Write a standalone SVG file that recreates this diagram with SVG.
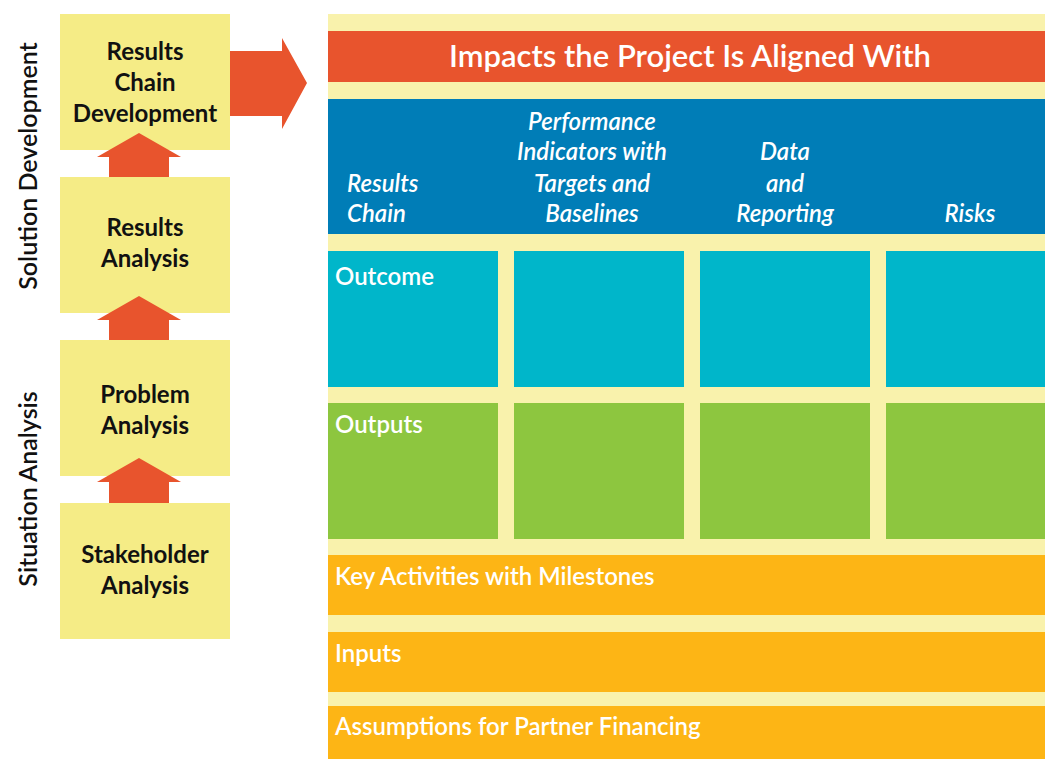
<svg xmlns="http://www.w3.org/2000/svg" width="1045" height="759" viewBox="0 0 1045 759">
<style>
.box{fill:#F5EC86}
.arr{fill:#E8542D}
.lbl{font-family:Lato,"Liberation Sans",sans-serif;font-weight:bold;font-size:24px;fill:#111;text-anchor:middle}
.side{font-family:Lato,"Liberation Sans",sans-serif;font-weight:600;font-size:25px;fill:#111;text-anchor:middle}
.hdr{font-family:Lato,"Liberation Sans",sans-serif;font-style:italic;font-weight:600;font-size:24px;fill:#fff}
.row{font-family:Lato,"Liberation Sans",sans-serif;font-weight:600;font-size:24px;fill:#fff}
.title{font-family:Lato,"Liberation Sans",sans-serif;font-weight:600;font-size:31px;fill:#fff;text-anchor:middle}
</style>
<rect width="1045" height="759" fill="#fff"/>
<g id="side-labels">
<text class="side" transform="translate(37,166) rotate(-90)">Solution Development</text>
<text class="side" transform="translate(37,489) rotate(-90)">Situation Analysis</text>
</g>
<g id="node-results-chain-development">
<rect class="box" x="60" y="14" width="170" height="136"/>
<text class="lbl" x="145" y="60">Results</text>
<text class="lbl" x="145" y="91">Chain</text>
<text class="lbl" x="145" y="122">Development</text>
</g>
<g id="node-results-analysis">
<rect class="box" x="60" y="177" width="170" height="136"/>
<text class="lbl" x="145" y="236">Results</text>
<text class="lbl" x="145" y="267">Analysis</text>
</g>
<g id="node-problem-analysis">
<rect class="box" x="60" y="340" width="170" height="136"/>
<text class="lbl" x="145" y="403">Problem</text>
<text class="lbl" x="145" y="434">Analysis</text>
</g>
<g id="node-stakeholder-analysis">
<rect class="box" x="60" y="503" width="170" height="136"/>
<text class="lbl" x="145" y="563">Stakeholder</text>
<text class="lbl" x="145" y="594">Analysis</text>
</g>
<g id="connectors">
<polygon class="arr" points="139,133 181,157 169,157 169,177 109,177 109,157 97,157"/>
<polygon class="arr" points="139,296 181,320 169,320 169,340 109,340 109,320 97,320"/>
<polygon class="arr" points="139,458 181,482 169,482 169,503 109,503 109,482 97,482"/>
<polygon class="arr" points="230,51 282,51 282,38 307,83 282,129 282,116 230,116"/>
</g>
<g id="node-framework">
<rect x="328" y="14" width="717" height="745" fill="#F9F2AC"/>
<rect x="328" y="31" width="717" height="51" fill="#E8542D"/>
<text class="title" x="690" y="67">Impacts the Project Is Aligned With</text>
<rect x="328" y="99" width="717" height="135" fill="#007DB7"/>
<text class="hdr" x="347" y="192">Results</text>
<text class="hdr" x="347" y="222">Chain</text>
<g text-anchor="middle">
<text class="hdr" x="592" y="130">Performance</text>
<text class="hdr" x="592" y="160">Indicators with</text>
<text class="hdr" x="592" y="192">Targets and</text>
<text class="hdr" x="592" y="222">Baselines</text>
<text class="hdr" x="785" y="160">Data</text>
<text class="hdr" x="785" y="192">and</text>
<text class="hdr" x="785" y="222">Reporting</text>
<text class="hdr" x="970" y="222">Risks</text>
</g>
<g fill="#00B6CA">
<rect x="328" y="251" width="170" height="136"/>
<rect x="514" y="251" width="170" height="136"/>
<rect x="700" y="251" width="170" height="136"/>
<rect x="886" y="251" width="159" height="136"/>
</g>
<text class="row" x="335" y="285">Outcome</text>
<g fill="#8DC63F">
<rect x="328" y="403" width="170" height="136"/>
<rect x="514" y="403" width="170" height="136"/>
<rect x="700" y="403" width="170" height="136"/>
<rect x="886" y="403" width="159" height="136"/>
</g>
<text class="row" x="335" y="433">Outputs</text>
<g fill="#FDB515">
<rect x="328" y="555" width="717" height="60"/>
<rect x="328" y="632" width="717" height="60"/>
<rect x="328" y="706" width="717" height="53"/>
</g>
<text class="row" x="335" y="585">Key Activities with Milestones</text>
<text class="row" x="335" y="662">Inputs</text>
<text class="row" x="335" y="735">Assumptions for Partner Financing</text>
</g>
</svg>
